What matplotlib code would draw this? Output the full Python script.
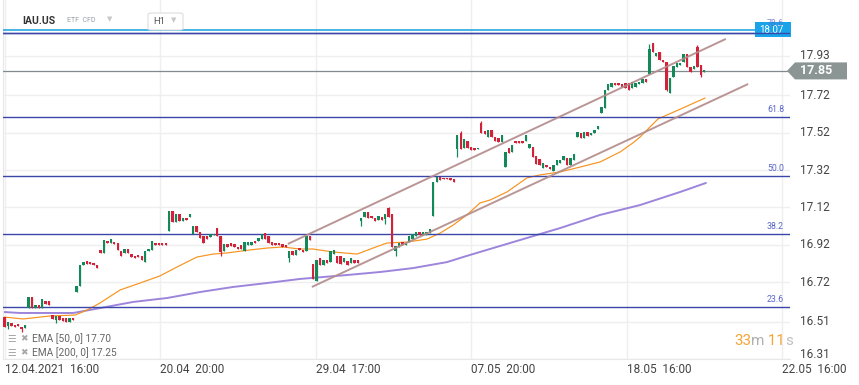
import matplotlib
matplotlib.use('Agg')
import matplotlib.pyplot as plt
import matplotlib.transforms as mtransforms
from matplotlib.patches import Polygon, FancyBboxPatch
import numpy as np

# ---------------- data ----------------
opens = [16.537, 16.485, 16.505, 16.49, 16.497, 16.48, 16.475, 16.581, 16.64, 16.58,
         16.60, 16.58, 16.62, 16.62, 16.545, 16.52, 16.54, 16.527, 16.53, 16.51,
         16.53, 16.67, 16.70, 16.81, 16.834, 16.83, 16.825, 16.81, 16.893, 16.875,
         16.94, 16.93, 16.937, 16.93, 16.885, 16.875, 16.90, 16.87, 16.86, 16.865,
         16.86, 16.83, 16.885, 16.895, 16.93, 16.93, 16.93, 16.93, 16.996, 17.10,
         17.04, 17.085, 17.045, 17.065, 17.068, 16.976, 17.02, 16.99, 16.965, 16.965,
         16.96, 16.972, 17.01, 16.965, 16.885, 16.925, 16.93, 16.925, 16.91, 16.92,
         16.885, 16.92, 16.92, 16.94, 16.94, 16.95, 16.985, 16.97, 16.935, 16.93,
         16.93, 16.925, 16.92, 16.85, 16.885, 16.865, 16.905, 16.895, 16.885, 16.965,
         16.82, 16.725, 16.85, 16.815, 16.84, 16.83, 16.87, 16.86, 16.86, 16.83,
         16.834, 16.825, 16.84, 16.84, 17.045, 17.067, 17.094, 17.074, 17.065, 17.055,
         17.07, 17.056, 17.115, 17.085, 16.885, 16.91, 16.935, 16.917, 16.937, 16.95,
         16.967, 16.99, 16.975, 16.975, 16.985, 17.076, 17.258, 17.285, 17.28, 17.28,
         17.28, 17.272, 17.432, 17.517, 17.437, 17.476, 17.445, 17.436, 17.432, 17.57,
         17.53, 17.498, 17.534, 17.495, 17.493, 17.468, 17.335, 17.436, 17.418, 17.476,
         17.476, 17.476, 17.477, 17.437, 17.445, 17.397, 17.378, 17.33, 17.347, 17.338,
         17.317, 17.347, 17.356, 17.374, 17.386, 17.347, 17.374, 17.498, 17.517, 17.493,
         17.525, 17.508, 17.517, 17.538, 17.627, 17.65, 17.748, 17.766, 17.787, 17.787,
         17.78, 17.787, 17.787, 17.76, 17.763, 17.78, 17.784, 17.805, 17.832, 17.998,
         17.93, 17.95, 17.91, 17.90, 17.73, 17.82, 17.873, 17.882, 17.90, 17.94,
         17.873, 17.859, 17.98, 17.882, 17.846]
closes = [16.483, 16.51, 16.485, 16.48, 16.486, 16.47, 16.49, 16.64, 16.58, 16.60,
          16.58, 16.63, 16.605, 16.60, 16.522, 16.54, 16.52, 16.515, 16.51, 16.53,
          16.52, 16.70, 16.812, 16.83, 16.82, 16.82, 16.81, 16.795, 16.875, 16.946,
          16.93, 16.95, 16.923, 16.893, 16.86, 16.90, 16.875, 16.854, 16.848, 16.853,
          16.84, 16.885, 16.90, 16.94, 16.92, 16.92, 16.92, 16.92, 17.101, 17.04,
          17.085, 17.045, 17.065, 17.053, 17.085, 17.021, 16.99, 16.955, 16.93, 16.95,
          16.98, 16.98, 16.965, 16.88, 16.925, 16.91, 16.915, 16.91, 16.897, 16.90,
          16.937, 16.937, 16.937, 16.93, 16.955, 16.98, 16.95, 16.93, 16.92, 16.92,
          16.92, 16.91, 16.91, 16.885, 16.865, 16.895, 16.89, 16.88, 16.965, 16.946,
          16.735, 16.84, 16.815, 16.84, 16.825, 16.885, 16.89, 16.825, 16.82, 16.85,
          16.815, 16.85, 16.825, 16.825, 17.062, 17.094, 17.065, 17.062, 17.05, 17.073,
          17.053, 17.085, 17.07, 16.91, 16.915, 16.93, 16.92, 16.93, 16.965, 16.98,
          16.99, 16.975, 16.99, 16.99, 17.003, 17.255, 17.285, 17.267, 17.27, 17.27,
          17.265, 17.258, 17.51, 17.432, 17.485, 17.437, 17.427, 17.427, 17.44, 17.517,
          17.513, 17.534, 17.498, 17.477, 17.468, 17.508, 17.418, 17.413, 17.454, 17.463,
          17.463, 17.463, 17.508, 17.458, 17.392, 17.353, 17.347, 17.357, 17.335, 17.324,
          17.347, 17.374, 17.374, 17.397, 17.347, 17.383, 17.406, 17.522, 17.49, 17.522,
          17.504, 17.517, 17.534, 17.556, 17.659, 17.748, 17.78, 17.784, 17.775, 17.775,
          17.766, 17.757, 17.748, 17.793, 17.787, 17.793, 17.805, 17.793, 17.967, 17.953,
          17.948, 17.91, 17.90, 17.748, 17.814, 17.876, 17.89, 17.894, 17.939, 17.873,
          17.846, 17.876, 17.873, 17.828, 17.855]
wick_high = {112: 17.12, 133: 17.53, 139: 17.58, 188: 17.994, 202: 17.99}
wick_low = {1: 16.47, 5: 16.455, 15: 16.50, 63: 16.858, 83: 16.83, 104: 17.02,
            111: 17.03, 114: 16.86, 132: 17.392, 193: 17.74, 203: 17.82}

ema50_idx = [0, 5.4, 13.3, 20.6, 24.1, 27.8, 33.7, 39.5, 45.3, 50.3, 56.1, 60.8, 64.9,
             71.6, 76.5, 81.2, 85.9, 89.9, 95.8, 102.8, 107.4, 111.5, 117.3, 123.2,
             127.0, 130.8, 134.8, 138.6, 141.6, 146.5, 152.3, 156.1, 162.0, 167.8,
             173.6, 179.5, 183.2, 185.3, 190.5, 197.8, 204.2]
ema50_val = [16.534, 16.524, 16.540, 16.545, 16.572, 16.609, 16.679, 16.716, 16.754,
             16.802, 16.855, 16.871, 16.877, 16.893, 16.903, 16.909, 16.898, 16.898,
             16.882, 16.871, 16.903, 16.930, 16.935, 16.951, 16.983, 17.026, 17.080,
             17.144, 17.160, 17.203, 17.278, 17.294, 17.310, 17.336, 17.363, 17.417,
             17.465, 17.497, 17.593, 17.652, 17.705]
ema200_idx = [0, 4.5, 13.3, 20.0, 27.8, 37.5, 47.4, 57.0, 66.6, 76.5, 86.2, 99.9,
              109.5, 119.1, 129.0, 133.7, 138.6, 150.3, 162.0, 173.6, 185.3, 197.0, 204.5]
ema200_val = [16.561, 16.556, 16.556, 16.556, 16.582, 16.615, 16.636, 16.668, 16.695,
              16.716, 16.738, 16.759, 16.775, 16.796, 16.828, 16.855, 16.882, 16.946,
              17.010, 17.080, 17.133, 17.203, 17.251]

channel_upper_idx = [82.6, 210.3]
channel_upper_val = [16.925, 18.021]
channel_lower_idx = [89.6, 216.8]
channel_lower_val = [16.695, 17.78]

fib_levels = [18.053, 17.602, 17.288, 16.978, 16.588]
fib_labels = ['78.6', '61.8', '50.0', '38.2', '23.6']
alert_level = 18.07
last_price = 17.85

ytick_vals = [17.93, 17.72, 17.52, 17.32, 17.12, 16.92, 16.72, 16.51, 16.31]
xtick_idx = [0.15, 45.45, 90.75, 136.05, 181.35, 226.65]
xtick_labels = ['12.04.2021  16:00', '20.04  20:00', '29.04  17:00',
                '07.05  20:00', '18.05  16:00', '22.05  16:00']
ema_legend = ['EMA [50, 0] 17.70', 'EMA [200, 0] 17.25']

# ---------------- figure ----------------
W, H = 859, 385
fig = plt.figure(figsize=(W / 100, H / 100), dpi=100)
fig.patch.set_facecolor('white')
ax = fig.add_axes([3 / W, (H - 359) / H, 787 / W, 359 / H])
ax.set_xlim(-0.44, 229.0)
ax.set_ylim(16.310, 18.229)
for s in ['top', 'right']:
    ax.spines[s].set_visible(False)
ax.spines['left'].set_color('#e8e8e8')
ax.spines['bottom'].set_color('#e8e8e8')

ax.set_yticks(ytick_vals)
ax.set_yticklabels([])
ax.set_xticks(xtick_idx)
ax.set_xticklabels(xtick_labels, ha='left', fontsize=8.5, color='#444444', family='Roboto')
ax.tick_params(axis='both', length=0)
ax.tick_params(axis='x', pad=3)
ax.grid(True, color='#efefef', lw=1, zorder=0)
ax.set_axisbelow(True)

# right price labels
ytr = ax.get_yaxis_transform()
for i, v in enumerate(ytick_vals):
    dy = 5 if i == len(ytick_vals) - 1 else 0
    ax.annotate(f'{v:.2f}', xy=(1.0, v), xycoords=ytr, xytext=(10, dy),
                textcoords='offset pixels', ha='left', va='center', fontsize=8.5,
                color='#444444', family='Roboto', annotation_clip=False)

# EMA lines
ax.plot(ema200_idx, ema200_val, color='#9378d8', lw=1.4, alpha=0.9, zorder=2,
        solid_capstyle='round')
ax.plot(ema50_idx, ema50_val, color='#f7931e', lw=0.85, zorder=2)

# alert line + fib lines
ax.axhline(alert_level, color='#2aa8e2', lw=1.2, zorder=3)
for lv, lb in zip(fib_levels, fib_labels):
    ax.axhline(lv, color='#3a47a8', lw=1.0, zorder=3)

# price line
ax.axhline(last_price, color='#7f8b8c', lw=0.9, zorder=3)

# candles
o = np.array(opens)
c = np.array(closes)
idx = np.arange(len(o))
up = c >= o
cols = np.where(up, '#13895a', '#d1223a')
body_lo = np.minimum(o, c)
body_h = np.maximum(np.abs(c - o), 0.006)
hi = np.maximum(o, c).astype(float)
lo = np.minimum(o, c).astype(float)
for k, v in wick_high.items():
    hi[k] = v
for k, v in wick_low.items():
    lo[k] = v
ax.vlines(idx, lo, hi, colors=cols, lw=0.9, zorder=4)
ax.bar(idx, body_h, bottom=body_lo, width=0.7, color=cols, linewidth=0, zorder=5)

# channel
ax.plot(channel_upper_idx, channel_upper_val, color='#b38a8a', lw=1.4, alpha=0.9,
        zorder=6, solid_capstyle='butt')
ax.plot(channel_lower_idx, channel_lower_val, color='#b38a8a', lw=1.4, alpha=0.9,
        zorder=6, solid_capstyle='butt')

# alert box 18.07
box_tr = fig.dpi_scale_trans + mtransforms.ScaledTranslation(1.0, alert_level, ytr)
ax.add_patch(Polygon([(-0.35, -0.075), (0.01, -0.075), (0.01, 0.075), (-0.35, 0.075)],
                     closed=True, transform=box_tr, facecolor='#19a4ea', edgecolor='none',
                     zorder=7, clip_on=False))
ax.annotate(f'{alert_level:.2f}', xy=(1.0, alert_level), xycoords=ytr, xytext=(-6, 0),
            textcoords='offset pixels', ha='right', va='center', fontsize=7, color='white',
            family='Roboto', zorder=8, annotation_clip=False)
ax.axhline(fib_levels[0], color='#3a47a8', lw=1.0, zorder=8)

# fib labels
for lv, lb in zip(fib_levels, fib_labels):
    ax.annotate(lb, xy=(1.0, lv), xycoords=ytr, xytext=(-6, 5 if lb == '78.6' else 3),
                textcoords='offset pixels', ha='right', va='bottom', fontsize=6.3,
                color='#5867c8', family='Roboto', zorder=9,
                alpha=0.75 if lb == '78.6' else 1.0, annotation_clip=False)

# last price tag
tag_tr = fig.dpi_scale_trans + mtransforms.ScaledTranslation(1.0, last_price, ytr)
ax.add_patch(Polygon([(-0.03, 0), (0.05, 0.085), (0.57, 0.085), (0.57, -0.085), (0.05, -0.085)],
                     closed=True, transform=tag_tr, facecolor='#8b9594', edgecolor='none',
                     zorder=7, clip_on=False))
ax.annotate(f'{last_price:.2f}', xy=(1.0, last_price), xycoords=ytr, xytext=(10, 0),
            textcoords='offset pixels', ha='left', va='center', fontsize=9, color='white',
            fontweight='bold', family='Roboto', zorder=8, annotation_clip=False)

# header
def fx(x):
    return x / W

def fy(y):
    return 1 - y / H

fig.text(fx(22), fy(20.5), 'IAU.US', fontsize=7.5, fontweight='bold', color='#333333',
         family='Roboto', va='center', ha='left')
fig.text(fx(67), fy(21), 'ETF  CFD', fontsize=5, color='#9aa0aa', family='Roboto',
         va='center', ha='left')
fig.text(fx(110), fy(19), '▼', fontsize=5, color='#c8c8c8', va='center', ha='center',
         family='DejaVu Sans')
fig.patches.append(FancyBboxPatch((fx(148), fy(30)), fx(35), 17 / H,
                                  boxstyle='round,pad=0,rounding_size=0.004',
                                  transform=fig.transFigure, facecolor='white',
                                  edgecolor='#dddddd', lw=0.8, figure=fig))
fig.text(fx(153), fy(21.5), 'H1', fontsize=6.8, color='#555555', family='Roboto',
         va='center', ha='left')
fig.text(fx(174), fy(20), '▼', fontsize=5, color='#c8c8c8', va='center', ha='center',
         family='DejaVu Sans')

# EMA legend
for yy, txt in zip([339, 352.5], ema_legend):
    fig.text(fx(7), fy(yy), '☰', fontsize=7, color='#a8a8a8', va='center', ha='left',
             family='DejaVu Sans')
    fig.text(fx(20), fy(yy), '✖', fontsize=6.5, color='#a8a8a8', va='center', ha='left',
             family='DejaVu Sans')
    fig.text(fx(32), fy(yy), txt, fontsize=7.3, color='#666666', va='center', ha='left',
             family='Roboto')

# countdown
t1 = fig.text(fx(734), fy(341), '33', fontsize=11, color='#f6a53a', va='center',
              ha='left', family='Roboto')
t2 = ax.annotate('m', xy=(1, 0), xycoords=t1, va='bottom', ha='left', fontsize=11,
                 color='#b0b0b0', family='Roboto', annotation_clip=False)
t3 = ax.annotate(' 11', xy=(1, 0), xycoords=t2, va='bottom', ha='left', fontsize=11,
                 color='#f6a53a', family='Roboto', annotation_clip=False)
ax.annotate('s', xy=(1, 0), xycoords=t3, va='bottom', ha='left', fontsize=11,
            color='#c0c0c0', family='Roboto', annotation_clip=False)

fig.savefig('out.png', dpi=100, facecolor='white')
